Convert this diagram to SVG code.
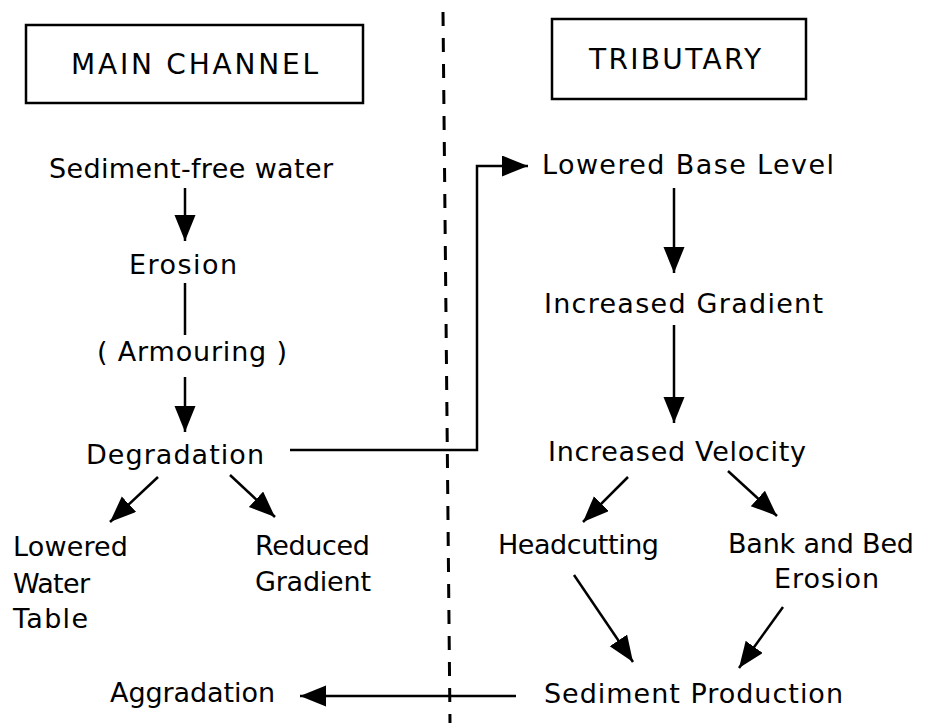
<svg xmlns="http://www.w3.org/2000/svg" width="932" height="723" viewBox="0 0 932 723">
<style>
text{font-family:"DejaVu Sans","Liberation Sans",Arial,sans-serif;font-size:27px;fill:#000;}
.t{font-size:28px;}
.box{fill:none;stroke:#000;stroke-width:2.5;}
.c{fill:none;stroke:#000;stroke-width:2.5;}
.dash{fill:none;stroke:#000;stroke-width:3;stroke-dasharray:14 12;}
</style>
<defs>
<marker id="ah" markerUnits="userSpaceOnUse" markerWidth="28" markerHeight="22" refX="26" refY="10.5" orient="auto">
<path d="M0,0 L26,10.5 L0,21 z" fill="#000"/>
</marker>
</defs>
<rect width="932" height="723" fill="#fff"/>
<g id="divider">
<line class="dash" x1="443" y1="12" x2="450" y2="723"/>
</g>
<g id="main-channel">
<rect class="box" x="26" y="25" width="337" height="78"/>
<text class="t" x="71" y="74" textLength="247" lengthAdjust="spacing">MAIN CHANNEL</text>
</g>
<g id="tributary">
<rect class="box" x="552" y="19" width="254" height="80"/>
<text class="t" x="589" y="69" textLength="172" lengthAdjust="spacing">TRIBUTARY</text>
</g>
<g id="sediment-free-water"><text x="49" y="178" textLength="284" lengthAdjust="spacing">Sediment-free water</text></g>
<g id="erosion-main"><text x="129" y="274" textLength="108" lengthAdjust="spacing">Erosion</text></g>
<g id="armouring"><text x="97" y="361" textLength="190" lengthAdjust="spacing">( Armouring )</text></g>
<g id="degradation"><text x="86" y="464" textLength="178" lengthAdjust="spacing">Degradation</text></g>
<g id="lowered-water-table">
<text x="13" y="556" textLength="115" lengthAdjust="spacing">Lowered</text>
<text x="13" y="593" textLength="77" lengthAdjust="spacing">Water</text>
<text x="13" y="628" textLength="75" lengthAdjust="spacing">Table</text>
</g>
<g id="reduced-gradient">
<text x="255" y="555" textLength="115" lengthAdjust="spacing">Reduced</text>
<text x="255" y="591" textLength="116" lengthAdjust="spacing">Gradient</text>
</g>
<g id="aggradation"><text x="110" y="702" textLength="165" lengthAdjust="spacing">Aggradation</text></g>
<g id="lowered-base-level"><text x="542" y="174" textLength="292" lengthAdjust="spacing">Lowered Base Level</text></g>
<g id="increased-gradient"><text x="544" y="313" textLength="279" lengthAdjust="spacing">Increased Gradient</text></g>
<g id="increased-velocity"><text x="548" y="461" textLength="258" lengthAdjust="spacing">Increased Velocity</text></g>
<g id="headcutting"><text x="498" y="554" textLength="161" lengthAdjust="spacing">Headcutting</text></g>
<g id="bank-bed-erosion">
<text x="728" y="553" textLength="186" lengthAdjust="spacing">Bank and Bed</text>
<text x="774" y="588" textLength="105" lengthAdjust="spacing">Erosion</text>
</g>
<g id="sediment-production"><text x="544" y="703" textLength="299" lengthAdjust="spacing">Sediment Production</text></g>
<g id="connectors">
<line class="c" x1="185" y1="188" x2="185" y2="241" marker-end="url(#ah)"/>
<line class="c" x1="185" y1="283" x2="185" y2="335"/>
<line class="c" x1="185" y1="377" x2="185" y2="432" marker-end="url(#ah)"/>
<line class="c" x1="158" y1="477" x2="110" y2="522" marker-end="url(#ah)"/>
<line class="c" x1="230" y1="475" x2="275" y2="517" marker-end="url(#ah)"/>
<polyline class="c" points="290,450 477,450 477,166 528,166" marker-end="url(#ah)"/>
<line class="c" x1="674" y1="188" x2="674" y2="273" marker-end="url(#ah)"/>
<line class="c" x1="674" y1="325" x2="674" y2="423" marker-end="url(#ah)"/>
<line class="c" x1="628" y1="477" x2="583" y2="522" marker-end="url(#ah)"/>
<line class="c" x1="728" y1="471" x2="777" y2="516" marker-end="url(#ah)"/>
<line class="c" x1="574" y1="575" x2="633" y2="662" marker-end="url(#ah)"/>
<line class="c" x1="783" y1="607" x2="739" y2="668" marker-end="url(#ah)"/>
<line class="c" x1="516" y1="696" x2="300" y2="696" marker-end="url(#ah)"/>
</g>
</svg>
